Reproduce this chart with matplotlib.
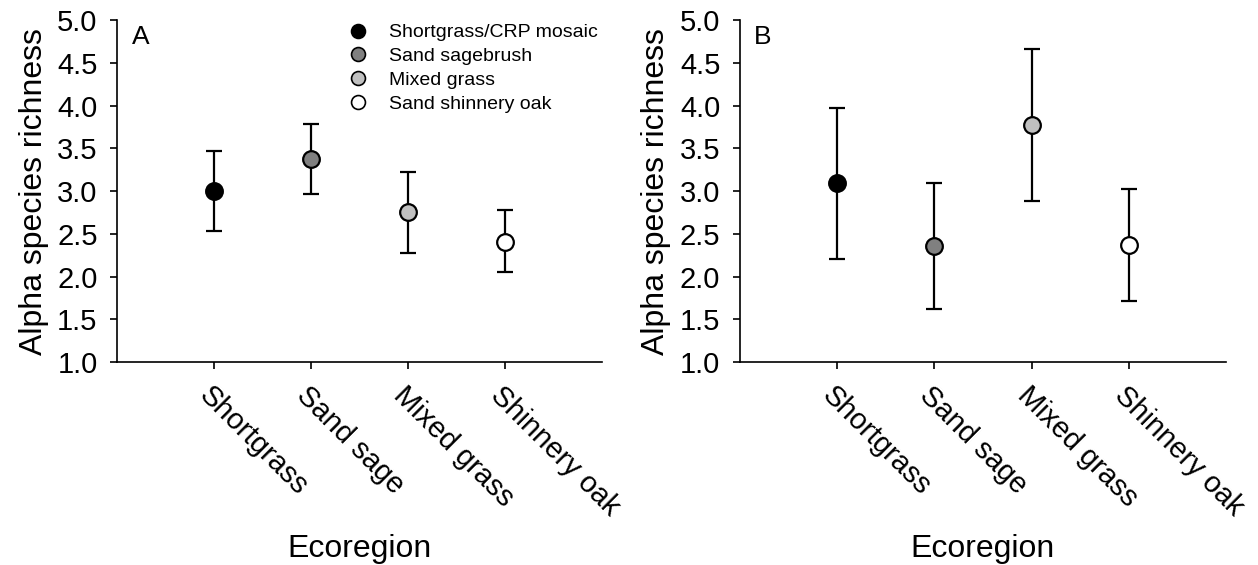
import matplotlib.pyplot as plt
from matplotlib.lines import Line2D

plt.rcParams['font.family'] = ['Liberation Sans', 'DejaVu Sans']

categories = ["Shortgrass", "Sand sage", "Mixed grass", "Shinnery oak"]
legend_labels = ["Shortgrass/CRP mosaic", "Sand sagebrush", "Mixed grass", "Sand shinnery oak"]
colors = ["#000000", "#808080", "#c0c0c0", "#ffffff"]

# panel A
mean_a = [3.00, 3.38, 2.75, 2.41]
upper_a = [3.47, 3.79, 3.22, 2.78]
lower_a = [2.53, 2.97, 2.28, 2.05]

# panel B
mean_b = [3.09, 2.36, 3.77, 2.37]
upper_b = [3.97, 3.09, 4.66, 3.02]
lower_b = [2.21, 1.62, 2.88, 1.71]

fig = plt.figure(figsize=(12.58, 5.65), dpi=100)
ax_a = fig.add_axes([0.093, 0.359, 0.3855, 0.6056])
ax_b = fig.add_axes([0.588, 0.359, 0.3866, 0.6056])


def panel(ax, mean, upper, lower, letter):
    x = list(range(1, len(categories) + 1))
    for i in range(len(categories)):
        ax.errorbar(x[i], mean[i],
                    yerr=[[mean[i] - lower[i]], [upper[i] - mean[i]]],
                    fmt='o', color='black', ecolor='black', elinewidth=1.6,
                    capsize=6, capthick=1.6, markersize=12,
                    markerfacecolor=colors[i], markeredgecolor='black',
                    markeredgewidth=1.6, zorder=3)
    ax.set_xlim(0, 5)
    ax.set_ylim(1.0, 5.0)
    ax.set_yticks([1.0, 1.5, 2.0, 2.5, 3.0, 3.5, 4.0, 4.5, 5.0])
    ax.set_yticklabels([f"{v:.1f}" for v in ax.get_yticks()], fontsize=21)
    ax.set_xticks(x)
    ax.set_xticklabels(categories, fontsize=21, rotation=-45, ha='left',
                       va='top', rotation_mode='anchor')
    ax.spines['top'].set_visible(False)
    ax.spines['right'].set_visible(False)
    ax.spines['left'].set_linewidth(1.2)
    ax.spines['bottom'].set_linewidth(1.2)
    ax.tick_params(width=1.2, length=5)
    ax.tick_params(axis='y', pad=9)
    ax.tick_params(axis='x', pad=9)
    ax.set_ylabel("Alpha species richness", fontsize=23, labelpad=6)
    ax.set_xlabel("Ecoregion", fontsize=23, labelpad=9)
    ax.text(0.03, 0.985, letter, transform=ax.transAxes, fontsize=19,
            va='top', ha='left')


panel(ax_a, mean_a, upper_a, lower_a, "A")
panel(ax_b, mean_b, upper_b, lower_b, "B")

handles = [Line2D([], [], marker='o', linestyle='none', markersize=10,
                  markerfacecolor=c, markeredgecolor='black', markeredgewidth=1.2)
           for c in colors]
ax_a.legend(handles, legend_labels, loc='upper left', bbox_to_anchor=(0.42, 1.04),
            frameon=False, fontsize=14, handletextpad=0.6, labelspacing=0.32)

fig.savefig("out.png", dpi=100)
